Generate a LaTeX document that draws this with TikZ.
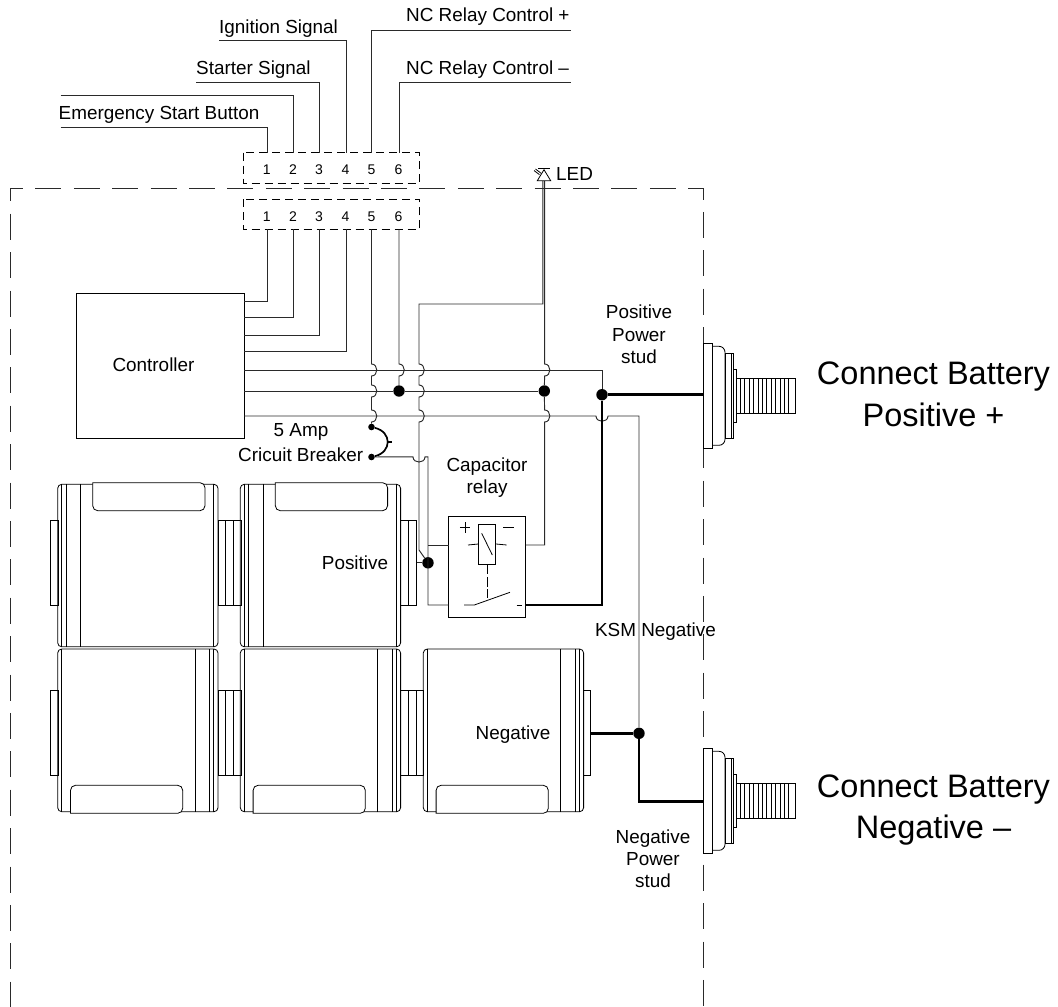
\documentclass[tikz,border=0pt]{standalone}
\usepackage{fontspec}
\setmainfont{Liberation Sans}
\definecolor{ink}{HTML}{2A2A2A}
\tikzset{
  x=1pt,y=-1pt,
  wire/.style={draw=ink,line width=0.95pt},
  heavy/.style={draw=black,line width=2.6pt,line join=miter},
  mid/.style={draw=black,line width=1.7pt},
  outline/.style={draw=black,line width=0.8pt},
  frame/.style={draw=ink,line width=0.95pt,dash pattern=on 26pt off 12.4pt,dash phase=13pt},
  boxdash/.style={draw=black,line width=0.8pt,dash pattern=on 8pt off 5pt},
  txt/.style={inner sep=0pt,font=\fontsize{18.9}{21}\selectfont,text=black},
  pinnum/.style={inner sep=0pt,font=\fontsize{14}{16}\selectfont,text=black},
  big/.style={inner sep=0pt,font=\fontsize{32.5}{40}\selectfont,text=black},
  dotb/.style={circle,fill=black,inner sep=0pt,minimum size=11.4pt},
  dots/.style={circle,fill=black,inner sep=0pt,minimum size=6.6pt},
  hopr/.style={to path={.. controls +(7,0) and +(7,0) .. (\tikztotarget)}},
  hopd/.style={to path={.. controls +(0,7) and +(0,7) .. (\tikztotarget)}},
  cellup/.pic={
    \draw[outline,rounded corners=4pt] (0,0) rectangle (160.3,162.5);
    \foreach \v in {4,8.3,23,155.6} \draw[outline] (\v,0) -- (\v,162.5);
    \draw[outline,fill=white] (35,-1.6) [rounded corners=5pt] -- (35,26.4) -- (147.3,26.4) -- (147.3,-1.6) [sharp corners] -- cycle;
  },
  celldown/.pic={
    \draw[outline,rounded corners=4pt] (0,0) rectangle (160.3,162.7);
    \foreach \v in {4,137.4,151.6,155.7} \draw[outline] (\v,0) -- (\v,162.7);
    \draw[outline,fill=white] (12.8,164.3) [rounded corners=5pt] -- (12.8,136.3) -- (125,136.3) -- (125,164.3) [sharp corners] -- cycle;
  },
  link/.pic={
    \draw[outline] (0,0) rectangle (23,84.6);
    \draw[outline] (7.5,0) -- (7.5,84.6) (15.5,0) -- (15.5,84.6);
  },
  stud/.pic={
    \draw[outline] (0,-52.5) rectangle (9.7,52.5);
    \draw[outline] (9.7,-49.5) [rounded corners=6pt] -- (22,-49.5) -- (22,49.5) -- (9.7,49.5);
    \draw[outline] (22,-42.5) rectangle (30.3,42.5);
    \draw[outline] (28.7,-42.5) -- (28.7,42.5);
    \draw[outline] (30.3,-26.5) rectangle (33,26.5);
    \draw[outline] (33,-17.7) rectangle (92.7,17.7);
    \foreach \v in {37.4,41.8,...,90} \draw[outline] (\v,-17.7) -- (\v,17.7);
  }
}
\begin{document}
\begin{tikzpicture}
\useasboundingbox (0,0) rectangle (1058,1007);

% enclosure
\coordinate (fa) at (10,188.3);
\coordinate (fb) at (703,188.3);
\coordinate (fc) at (703,1007);
\coordinate (fd) at (10,1007);
\draw[frame] (fa) -- (fb) -- (fc);
\draw[frame] (fa) -- (fd);

% connector blocks
\node[draw=none,minimum width=176pt,minimum height=30pt,inner sep=0pt] (tbox) at (331.3,167.7) {};
\node[draw=none,minimum width=176pt,minimum height=30pt,inner sep=0pt] (bbox) at (331.3,214.3) {};
\draw[boxdash] (tbox.north west) rectangle (tbox.south east);
\draw[boxdash] (bbox.north west) rectangle (bbox.south east);
\foreach \n/\x in {1/267.5,2/293,3/319,4/346.3,5/371.5,6/399}{
  \coordinate (t\n) at (\x,152.7);
  \coordinate (b\n) at (\x,229.3);
}
\foreach \n/\x in {1/266.7,2/292.9,3/318.9,4/345.5,5/371.5,6/398.5}{
  \node[pinnum,anchor=base] (tn\n) at (\x,174) {\n};
  \node[pinnum,anchor=base] (bn\n) at (\x,221) {\n};
}

% external signal wires
\coordinate (e1) at (60.7,127.3);
\coordinate (e2) at (60.7,95.7);
\coordinate (e3) at (196,82.7);
\coordinate (e4) at (219,40.7);
\coordinate (e5) at (570.7,30.3);
\coordinate (e6) at (570.7,82.7);
\draw[wire] (e1) -| (t1);
\draw[wire] (e2) -| (t2);
\draw[wire] (e3) -| (t3);
\draw[wire] (e4) -| (t4);
\draw[wire] (e5) -| (t5);
\draw[wire] (e6) -| (t6);
\node[txt,anchor=base west] (lemg) at (58.5,119) {Emergency Start Button};
\node[txt,anchor=base west] (lsta) at (196,74) {Starter Signal};
\node[txt,anchor=base west] (lign) at (219,33.3) {Ignition Signal};
\node[txt,anchor=base west] (lncp) at (406,21.7) {NC Relay Control +};
\node[txt,anchor=base west] (lncm) at (406,74) {NC Relay Control –};

% batteries
\pic at (57.7,484.3) {cellup};
\pic at (240.3,484.3) {cellup};
\pic at (57.7,649) {celldown};
\pic at (240.3,649) {celldown};
\pic at (423.3,649) {celldown};
\pic at (218,520.7) {link};
\pic at (218,690.7) {link};
\pic at (400.7,690.7) {link};
\draw[outline] (50,520.7) rectangle (58,605.3);
\draw[outline] (50,690.5) rectangle (58,775);
\draw[outline] (400.7,520.7) rectangle (416.7,605.3);
\draw[outline] (408,520.7) -- (408,605.3);
\draw[outline] (583.3,690.7) rectangle (590.7,775.3);

% controller
\node[draw=black,line width=0.8pt,minimum width=168pt,minimum height=145pt,inner sep=0pt] (ctl) at (160,365.5) {};
\node[txt] (lctl) at (153.5,365) {Controller};
\foreach \n/\y in {1/301,2/317.7,3/335.7,4/351.7,5/370,6/391,7/416}{
  \coordinate (c\n) at (244,\y);
}
\draw[wire] (c1) -| (b1);
\draw[wire] (c2) -| (b2);
\draw[wire] (c3) -| (b3);
\draw[wire] (c4) -| (b4);

% junctions
\node[dotb] (d6) at (399,391) {};
\node[dotb] (dled) at (544.3,391) {};
\node[dotb] (dpos) at (602,394.7) {};
\node[dotb] (dneg) at (639,733.3) {};
\node[dotb] (dbat) at (428,562.8) {};
\node[dots] (brk1) at (371.5,427) {};
\node[dots] (brk2) at (371.5,457) {};

% relay
\node[draw=black,line width=0.8pt,minimum width=77pt,minimum height=101.7pt,inner sep=0pt] (rel) at (487,566.8) {};
\node[draw=black,line width=0.8pt,minimum width=17pt,minimum height=40pt,inner sep=0pt] (coil) at (487.2,544) {};
\draw[outline] (481.7,533.3) -- (492.3,555);
\draw[outline] (468,545) -- (coil.west);
\draw[outline] (coil.east) -- (506.7,545);
\draw[outline] (459.8,527.3) -- (470.2,527.3) (465,522.1) -- (465,532.5);
\draw[outline] (503.3,527.3) -- (514,527.3);
\draw[outline,dash pattern=on 10pt off 2.5pt] (coil.south) -- (487.2,598);
\draw[outline] (464,605) -- (474.3,605) -- (510,592.3);
\draw[outline] (516.7,605) -- (522.3,605);
\coordinate (rl1) at (448.5,545);
\coordinate (rl2) at (448.5,605);
\coordinate (rr1) at (525.5,545);
\coordinate (rr2) at (525.5,605);

% vertical wires with hops
\draw[wire] (b5) -- (371.5,364) to[hopr] (371.5,376) -- (371.5,385) to[hopr] (371.5,397) -- (371.5,410) to[hopr] (371.5,422) -- (brk1);
\draw[wire] (b6) -- (399,364) to[hopr] (399,376) -- (d6);
\draw[wire] (542.8,181) -- (542.8,304) -- (419,304) -- (419,364) to[hopr] (419,376) -- (419,385) to[hopr] (419,397) -- (419,410) to[hopr] (419,422) -- (419,550) -- (dbat);
\draw[wire] (544.6,181) -- (544.6,364) to[hopr] (544.6,376) -- (dled) -- (544.6,410) to[hopr] (544.6,422) -- (544.6,545) -- (rr1);

% horizontal wires
\draw[wire] (c5) -- (602,370) -- (dpos);
\draw[wire] (c6) -- (d6) -- (dled);
\draw[wire] (c7) -- (596,416) to[hopd] (608,416) -- (639,416) -- (dneg);
\draw[wire] (brk2) -- (413,456.8) to[hopd] (425,456.8) -- (428,456.8) -- (428,605) -- (rl2);
\draw[wire] (428,545) -- (rl1);
\draw[wire] (416.7,562.8) -- (dbat);

% breaker
\draw[mid] (brk1) .. controls (392,432) and (392,452) .. (brk2);
\draw[mid] (386.8,442) -- (391.5,442);

% power wires
\coordinate (sp) at (703,394.7);
\coordinate (sn) at (703,801.7);
\draw[heavy] (rr2) -- (602,605) -- (dpos) -- (sp);
\draw[heavy] (590.7,733.3) -- (dneg) -- (639,801.7) -- (sn);

% studs
\pic at (703,395.8) {stud};
\pic at (703,800.8) {stud};

% LED
\draw[outline] (537.3,180.7) -- (550.7,180.7) -- (544,169.7) -- cycle;
\draw[outline] (538,168.8) -- (550,168.8);
\draw[outline] (534,170.5) -- (539.5,174.7) (535.5,169) -- (541,173.2);
\node[txt,anchor=base west] (lled) at (556,180.5) {LED};

% labels
\node[txt] (l5a) at (301,431.7) {5 Amp};
\node[txt] (lcb) at (300.7,454.3) {Cricuit Breaker};
\node[txt] (lcap1) at (487,467) {Capacitor};
\node[txt] (lcap2) at (487,489) {relay};
\node[txt] (lpos) at (355,563) {Positive};
\node[txt] (lneg) at (513,735) {Negative};
\node[txt] (lksm) at (655.5,632) {KSM Negative};
\node[txt] (psa) at (639,312) {Positive};
\node[txt] (psb) at (639,335) {Power};
\node[txt] (psc) at (639,357) {stud};
\node[txt] (nsa) at (653,839) {Negative};
\node[txt] (nsb) at (653,859) {Power};
\node[txt] (nsc) at (653,881) {stud};
\node[big] (cb1) at (933.5,377) {Connect Battery};
\node[big] (cb2) at (933.5,415) {Positive +};
\node[big] (cb3) at (933.5,790) {Connect Battery};
\node[big] (cb4) at (933.5,830) {Negative –};
\end{tikzpicture}
\end{document}
